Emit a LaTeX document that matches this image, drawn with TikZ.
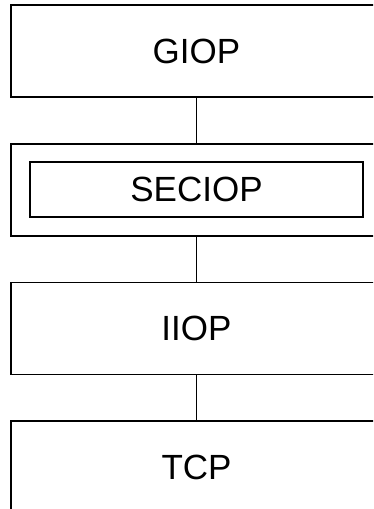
\documentclass[tikz,border=0pt]{standalone}
\usepackage{fontspec}
\setmainfont{Liberation Sans}
\begin{document}
\begin{tikzpicture}[x=1pt,y=1pt,
  layer/.style={draw=black, line width=1.2pt, minimum width=371pt, minimum height=92pt, inner sep=0pt},
  inner/.style={draw=black, line width=1.2pt, minimum width=333pt, minimum height=55pt, inner sep=0pt},
  link/.style={draw=black, line width=1.2pt},
  lbl/.style={font=\fontsize{35}{42}\selectfont}]
  \useasboundingbox (0,0) rectangle (373,-509);
  \clip (0,0) rectangle (373,-509);
  % protocol stack, top to bottom
  \node[layer, lbl] (giop) at (196.5,-51) {GIOP};
  \node[layer] (secouter) at (196.5,-190) {};
  \node[inner, lbl] (seciop) at (196.5,-189.5) {SECIOP};
  \node[layer, lbl] (iiop) at (196.5,-328.3) {IIOP};
  \node[layer, lbl] (tcp) at (196.5,-467) {TCP};
  % connectors between the layers
  \draw[link] (giop.south) -- (secouter.north);
  \draw[link] (secouter.south) -- (iiop.north);
  \draw[link] (iiop.south) -- (tcp.north);
\end{tikzpicture}
\end{document}
